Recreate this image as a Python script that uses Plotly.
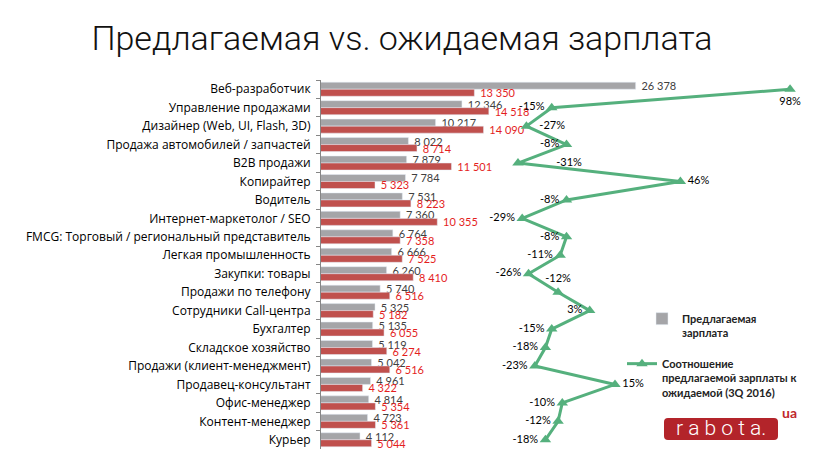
import plotly.graph_objects as go

categories = [
    "Веб-разработчик", "Управление продажами", "Дизайнер (Web, UI, Flash, 3D)",
    "Продажа автомобилей / запчастей", "B2B продажи", "Копирайтер", "Водитель",
    "Интернет-маркетолог / SEO", "FMCG: Торговый / региональный представитель",
    "Легкая промышленность", "Закупки: товары", "Продажи по телефону",
    "Сотрудники Call-центра", "Бухгалтер", "Складское хозяйство",
    "Продажи (клиент-менеджмент)", "Продавец-консультант", "Офис-менеджер",
    "Контент-менеджер", "Курьер",
]
offered = [26378, 12346, 10217, 8022, 7879, 7784, 7531, 7360, 6764, 6666,
           6260, 5740, 5325, 5135, 5119, 5042, 4961, 4814, 4723, 4112]
expected = [13350, 14518, 14090, 8714, 11501, 5323, 8223, 10355, 7358, 7525,
            8410, 6516, 5182, 6055, 6274, 6516, 4322, 5354, 5361, 5044]
ratio = [0.98, -0.15, -0.27, -0.08, -0.31, 0.46, -0.08, -0.29, -0.08, -0.11,
         -0.26, -0.12, 0.03, -0.15, -0.18, -0.23, 0.15, -0.10, -0.12, -0.18]

name_offered = "Предлагаемая<br>зарплата"
name_ratio = "Соотношение<br>предлагаемой зарплаты к<br>ожидаемой (3Q 2016)"
title_text = "Предлагаемая vs. ожидаемая зарплата"

# label placement (style only)
ratio_label_pos = ["bottom center", "middle left", "middle right", "middle left", "middle right",
                   "middle right", "middle left", "middle left", "middle left", "middle left",
                   "middle left", "top center", "middle left", "middle left", "middle left",
                   "middle left", "middle right", "middle left", "middle left", "middle left"]
ratio_label_pad = [0, 0, 2, 0, 11, 0, 0, 0, 0, 0, 0, 0, 0, 0, 0, 0, 0, 0, 0, 0]

W, H = 818, 459
L, R, T, B = 321, 10, 80, 10
PW, PH = W - L - R, H - T - B


def px(x):
    return (x - L) / PW


def py(y):
    return (H - B - y) / PH


def fmt(v):
    return "\u00a0" + f"{v:,}".replace(",", " ")


GRAY = "#A5A5A8"
RED = "#C0504D"
GREEN = "#55B07D"
NUMFONT = "Liberation Sans Narrow, Lato, sans-serif"

fig = go.Figure()
fig.add_trace(go.Bar(
    y=categories, x=offered, orientation="h", name=name_offered,
    marker=dict(color=GRAY), text=[fmt(v) for v in offered],
    textposition="outside", constraintext="none", cliponaxis=False,
    textfont=dict(family=NUMFONT, size=11, color="#404040"),
    legend="legend", hoverinfo="x+y",
))
fig.add_trace(go.Bar(
    y=categories, x=expected, orientation="h", name="Ожидаемая зарплата",
    marker=dict(color=RED), text=[fmt(v) for v in expected],
    textposition="outside", constraintext="none", cliponaxis=False,
    textfont=dict(family=NUMFONT, size=11, color="#E41E1E"),
    showlegend=False, hoverinfo="x+y",
))
fig.add_trace(go.Scatter(
    y=categories, x=ratio, xaxis="x2", mode="lines+markers+text", name=name_ratio,
    line=dict(color=GREEN, width=3),
    marker=dict(symbol="triangle-up", size=10, color=GREEN),
    text=["\u00a0" * p + f"{round(v * 100)}%" for v, p in zip(ratio, ratio_label_pad)],
    textposition=ratio_label_pos,
    textfont=dict(family=NUMFONT, size=11, color="#000000"),
    legend="legend2", cliponaxis=False,
))

# logo
x0, x1, y0, y1 = px(664), px(778), py(440), py(418)
rx, ry = 4 / PW, 4 / PH
path = (f"M{x0+rx},{y1} L{x1-rx},{y1} Q{x1},{y1} {x1},{y1-ry} L{x1},{y0+ry} "
        f"Q{x1},{y0} {x1-rx},{y0} L{x0+rx},{y0} Q{x0},{y0} {x0},{y0+ry} "
        f"L{x0},{y1-ry} Q{x0},{y1} {x0+rx},{y1} Z")

n = len(categories)
fig.update_layout(
    width=W, height=H,
    margin=dict(l=L, r=R, t=T, b=B, pad=0),
    paper_bgcolor="white", plot_bgcolor="white",
    barmode="group", bargap=0.24, bargroupgap=0,
    separators=". ",
    title=dict(text=title_text, x=402 / W, xref="container", xanchor="center",
               y=1 - 38 / H, yref="container", yanchor="middle",
               font=dict(family="Roboto, Lato, sans-serif", size=34, weight=300, color="#111111")),
    xaxis=dict(range=[961, 40299], visible=False, showgrid=False, zeroline=False),
    xaxis2=dict(range=[-1.244, 1.065], overlaying="x", side="top", visible=False,
                showgrid=False, zeroline=False),
    yaxis=dict(range=[n - 0.5, -0.5], autorange=False, showline=True, linecolor="#868686",
               linewidth=1, ticks="outside", tickson="boundaries", ticklen=4,
               tickcolor="#868686", ticklabelstandoff=7, showgrid=False,
               tickfont=dict(family="Open Sans, sans-serif", size=12, color="#000000")),
    legend=dict(x=px(642), y=py(305), xanchor="left", yanchor="top", valign="top",
                bgcolor="rgba(0,0,0,0)",
                font=dict(family="Lato, sans-serif", size=11, weight="bold", color="#222222")),
    legend2=dict(x=px(622), y=py(350), xanchor="left", yanchor="top", valign="top",
                 bgcolor="rgba(0,0,0,0)",
                 font=dict(family="Lato, sans-serif", size=11, weight="bold", color="#222222")),
    shapes=[dict(type="path", xref="paper", yref="paper", path=path,
                 fillcolor="#B3242A", line=dict(width=0), layer="above")],
    annotations=[
        dict(text="r a b o t a.", xref="paper", yref="paper", x=px(721), y=py(428),
             xanchor="center", yanchor="middle", showarrow=False,
             font=dict(family="Roboto, sans-serif", size=21, weight=300, color="white")),
        dict(text="ua", xref="paper", yref="paper", x=px(789), y=py(412),
             xanchor="center", yanchor="middle", showarrow=False,
             font=dict(family="Lato, sans-serif", size=14, weight="bold", color="#C0282D")),
    ],
)

fig.write_html("out.html", config={"displayModeBar": False},
               post_script="document.body.style.margin='0';")
